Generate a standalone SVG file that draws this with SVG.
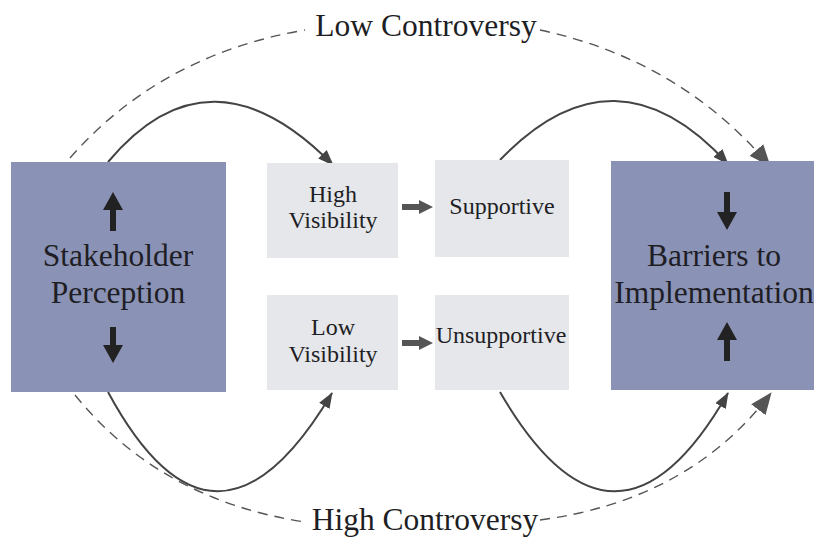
<svg xmlns="http://www.w3.org/2000/svg" width="814" height="541" viewBox="0 0 814 541">
<defs>
<style>
.big{fill:#8a92b6}
.small{fill:#e5e7eb}
.tx{font-family:'Liberation Serif','Tinos','Times New Roman','DejaVu Serif',serif;fill:#1e1e24;text-anchor:middle}
.t30{font-size:31.5px}
.t22{font-size:24px}
.solid{fill:none;stroke:#444;stroke-width:2}
.dash{fill:none;stroke:#555;stroke-width:1.4;stroke-dasharray:10 7}
.blk{fill:#222}
.gry{fill:#555}
</style>
<marker id="ah" viewBox="0 0 16 12" refX="15" refY="6" markerWidth="16" markerHeight="12" markerUnits="userSpaceOnUse" orient="auto">
<path d="M0,0 L16,6 L0,12 Z" fill="#444"/>
</marker>
<marker id="ahd" viewBox="0 0 22 18" refX="21" refY="9" markerWidth="22" markerHeight="18" markerUnits="userSpaceOnUse" orient="auto">
<path d="M0,0 L22,9 L0,18 Z" fill="#555"/>
</marker>
</defs>
<rect width="814" height="541" fill="#ffffff"/>

<g id="connectors">
<path class="solid" d="M108,162 Q210,40 333,165" marker-end="url(#ah)"/>
<path class="solid" d="M500,160 Q615,40 728,164" marker-end="url(#ah)"/>
<path class="solid" d="M108,392 Q215,590 332,393" marker-end="url(#ah)"/>
<path class="solid" d="M500,392 Q615,590 728,393" marker-end="url(#ah)"/>
<path class="dash" d="M70,158 Q160,55 305,30"/>
<path class="dash" d="M540,30 Q680,60 770,166" marker-end="url(#ahd)"/>
<path class="dash" d="M75,395 Q160,500 305,522"/>
<path class="dash" d="M540,520 Q690,500 771,393" marker-end="url(#ahd)"/>
<path class="gry" d="M402,204 L419,204 L419,200 L433,207 L419,214 L419,210 L402,210 Z"/>
<path class="gry" d="M402,340 L419,340 L419,336 L433,343 L419,350 L419,346 L402,346 Z"/>
</g>

<g id="stakeholder">
<rect class="big" x="11" y="162" width="215" height="230"/>
<path class="blk" d="M113,192 L123,210 L116,210 L116,231 L110,231 L110,210 L103,210 Z"/>
<path class="blk" d="M113,363 L123,345 L116,345 L116,327 L110,327 L110,345 L103,345 Z"/>
<text class="tx t30" x="118" y="266">Stakeholder</text>
<text class="tx t30" x="118" y="303">Perception</text>
</g>

<g id="high-visibility">
<rect class="small" x="267" y="163" width="131" height="95"/>
<text class="tx t22" x="333" y="202">High</text>
<text class="tx t22" x="333" y="228">Visibility</text>
</g>

<g id="low-visibility">
<rect class="small" x="267" y="295" width="131" height="95"/>
<text class="tx t22" x="333" y="335">Low</text>
<text class="tx t22" x="333" y="362">Visibility</text>
</g>

<g id="supportive">
<rect class="small" x="435" y="160" width="134" height="97"/>
<text class="tx t22" x="502" y="214">Supportive</text>
</g>

<g id="unsupportive">
<rect class="small" x="435" y="295" width="134" height="95"/>
<text class="tx t22" x="501" y="343">Unsupportive</text>
</g>

<g id="barriers">
<rect class="big" x="611" y="161" width="210" height="229"/>
<path class="blk" d="M727,230 L737,212 L730,212 L730,192 L724,192 L724,212 L717,212 Z"/>
<path class="blk" d="M727,322 L737,340 L730,340 L730,361 L724,361 L724,340 L717,340 Z"/>
<text class="tx t30" x="714" y="266">Barriers to</text>
<text class="tx t30" x="714" y="303">Implementation</text>
</g>

<g id="labels">
<text class="tx t30" x="426" y="36">Low Controversy</text>
<text class="tx t30" x="425" y="530">High Controversy</text>
</g>
</svg>
